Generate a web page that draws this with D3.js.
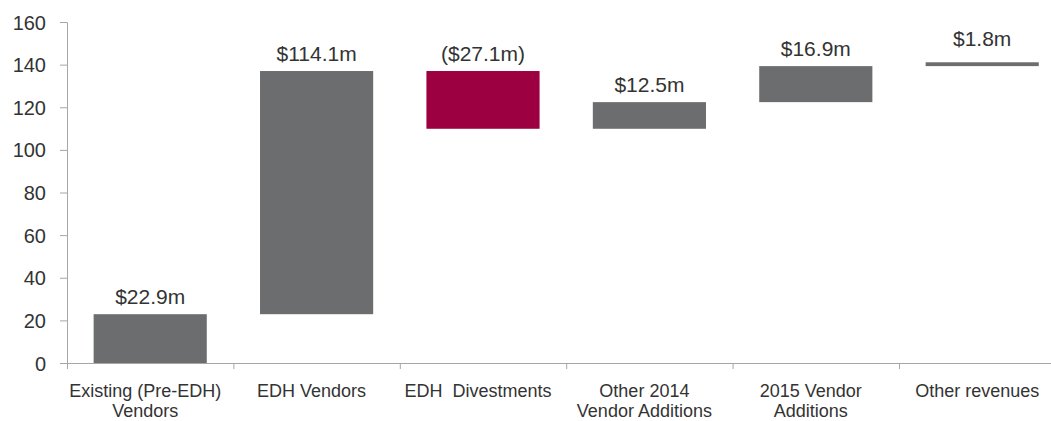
<!DOCTYPE html>
<html><head><meta charset="utf-8">
<script src="https://cdn.jsdelivr.net/npm/d3@7"></script>
<style>
html,body{margin:0;padding:0;background:#fff;}
text{font-family:"Liberation Sans",Arial,Helvetica,sans-serif;fill:#333;}
</style></head>
<body><svg id="c" width="1051" height="421"></svg>
<script>
const categories = [["Existing (Pre-EDH)","Vendors"],["EDH Vendors"],["EDH\u00a0 Divestments"],["Other 2014","Vendor Additions"],["2015 Vendor","Additions"],["Other revenues"]];
const deltas = [22.9, 114.1, -27.1, 12.5, 16.9, 1.8];
const valueLabels = ["$22.9m","$114.1m","($27.1m)","$12.5m","$16.9m","$1.8m"];
const yTicks = [0,20,40,60,80,100,120,140,160];

const svg = d3.select("#c");
const x0 = 67, yBottom = 363, yTop = 22, step = 166.4;
const keys = categories.map((c,i)=>i);
const x = d3.scaleBand().domain(keys).range([x0, x0 + step*keys.length]).padding(0);
const y = d3.scaleLinear().domain([0,160]).range([yBottom, yTop]);

let run = 0;
const bars = deltas.map((d,i)=>{ const s = run; run += d; return {i, start:s, end:run, d}; });

// y axis
const yAxis = svg.append("g").attr("transform",`translate(${x0},0)`)
  .call(d3.axisLeft(y).tickValues(yTicks).tickSizeOuter(0).tickSize(7).tickPadding(14));
yAxis.select(".domain").attr("stroke","#a6a6a6");
yAxis.selectAll(".tick line").attr("stroke","#a6a6a6");
yAxis.selectAll(".tick text").style("font-size","20px").style("font-family","'Liberation Sans',Arial,sans-serif").attr("fill","#333").attr("dy","0.35em");

// bars
const bw = x.bandwidth()*0.68;
svg.append("g").selectAll("rect").data(bars).join("rect")
  .attr("x", b => x(b.i) + (x.bandwidth()-bw)/2)
  .attr("width", bw)
  .attr("y", b => y(Math.max(b.start,b.end)))
  .attr("height", b => Math.max(3.5, Math.abs(y(b.start)-y(b.end))))
  .attr("fill", b => b.d < 0 ? "#9d0041" : "#6c6d6f");

// value labels
svg.append("g").selectAll("text").data(bars).join("text")
  .attr("x", b => x(b.i) + x.bandwidth()/2)
  .attr("y", b => y(Math.max(b.start,b.end)) - (b.i===5 ? 16 : 10))
  .attr("text-anchor","middle")
  .style("font-size","21px")
  .text(b => valueLabels[b.i]);

// x axis
const xg = svg.append("g");
xg.append("line").attr("x1",60).attr("x2",1051).attr("y1",yBottom+0.5).attr("y2",yBottom+0.5).attr("stroke","#a6a6a6");
xg.selectAll("line.t").data(keys).join("line").attr("class","t")
  .attr("x1", k => x(k)+0.5).attr("x2", k => x(k)+0.5)
  .attr("y1", yBottom).attr("y2", yBottom+6).attr("stroke","#a6a6a6");
const lab = xg.selectAll("text").data(keys).join("text")
  .attr("text-anchor","middle")
  .style("font-size","18px");
lab.each(function(k){
  const t = d3.select(this);
  categories[k].forEach((ln,j)=>{
    t.append("tspan").attr("x", x(k)+x.bandwidth()/2 - 5).attr("y", 397 + j*20).text(ln);
  });
});
</script></body></html>
